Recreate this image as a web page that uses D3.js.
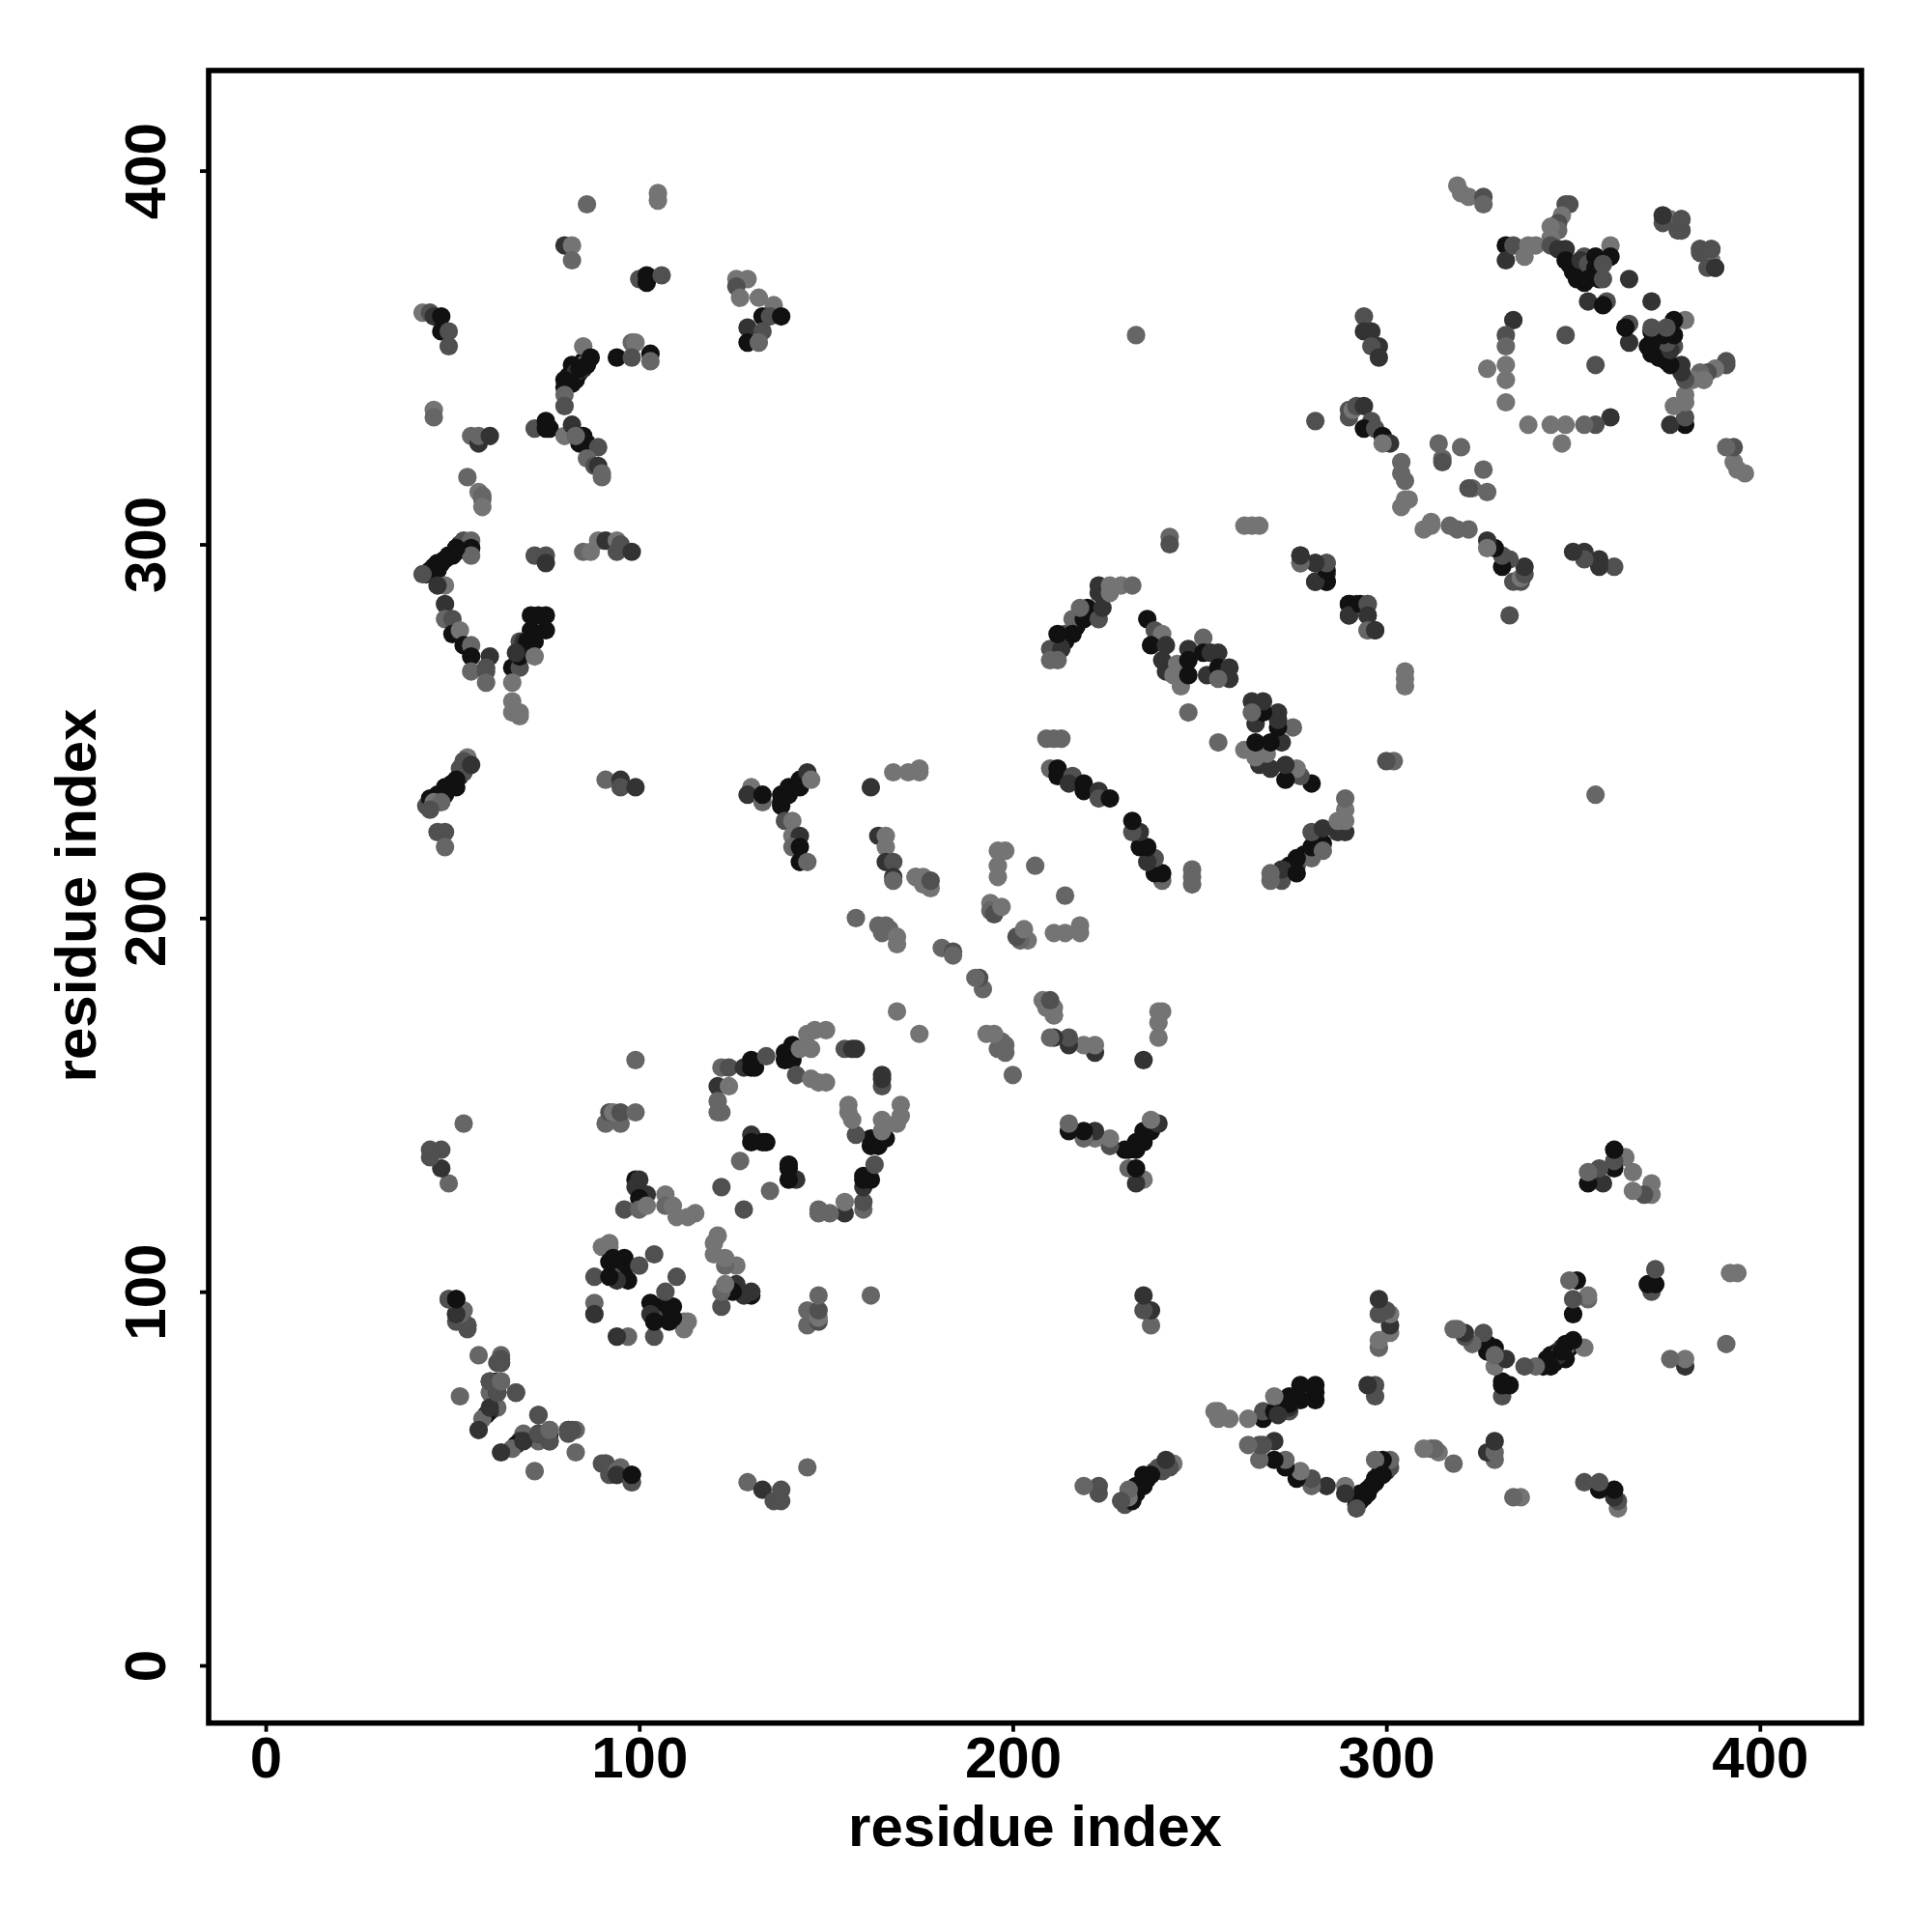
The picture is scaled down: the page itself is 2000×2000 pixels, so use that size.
<!DOCTYPE html>
<html><head><meta charset="utf-8">
<script src="https://cdnjs.cloudflare.com/ajax/libs/d3/7.8.5/d3.min.js"></script>
<style>html,body{margin:0;background:#fff}</style></head>
<body><script>
const xTicks=[0,100,200,300,400];
const yTicks=[0,100,200,300,400];
const axisLabel="residue index";
const shades=["#747474","#666666","#505050","#333333","#111111"];
// residue i, residue j (contact is drawn at i,j and j,i), shade index
const contactsDense=[
[43,230,2],[45,232,4],[46,233,4],[49,235,4],[50,236,4],[52,238,3],[52,240,2],
[43,292,4],[45,294,4],[47,295,4],[49,297,4],[52,299,4],[54,300,3],
[81,343,4],[81,345,4],[83,344,4],[84,346,4],[85,347,3],[86,349,4],
[214,274,4],[217,278,4],[221,281,4],
[349,375,4],[353,373,4],[355,372,4],[357,371,4],[350,373,3],
[370,353,4],[373,350,4],[375,356,4],[377,353,2],[372,356,3],
[293,45,4],[295,47,4],[297,49,4],[298,51,4],[300,52,3],
[231,46,3],[233,47,4],[235,49,4],[236,50,4],
[343,81,4],[346,82,4],[347,84,3],[349,85,4]
];
const contactsFar=[
[86,391,1],[105,394,0],[105,392,0],[80,380,3],[82,380,0],[82,376,1],[100,371,2],[102,372,4],[102,370,4],[106,372,2],
[126,371,0],[129,371,0],[126,369,2],[127,366,0],[132,366,0],[136,364,0],[133,361,4],[135,361,2],[138,361,4],[129,358,3],[133,357,2],[129,354,4],[132,354,1],
[42,362,0],[44,362,2],[45,361,3],[47,361,4],[47,357,4],[49,357,2],[49,353,2],
[85,353,0],[85,348,1],[82,348,4],[83,346,3],[87,350,4],[86,348,4],[84,347,4],[80,344,4],[82,343,4],[80,342,4],[80,340,1],[80,337,2],
[94,350,4],[98,354,1],[99,354,0],[98,350,2],[103,351,4],[103,349,1],
[45,336,0],[45,334,1],[55,329,1],[57,327,3],[57,329,1],[60,329,3],
[72,331,2],[75,333,4],[75,331,4],[76,331,4],[80,329,0],[82,332,3],[84,327,4],[85,329,4],[86,327,4],[83,329,1],[89,326,2],[86,323,1],[88,321,2],[89,321,3],[90,319,1],[90,318,1],
[54,318,1],[57,314,0],[58,313,1],[58,312,1],[58,310,0],
[53,301,2],[55,301,1],[55,299,4],[55,297,1],[51,299,4],[50,297,4],[48,296,4],[46,295,4],[44,293,4],[46,293,4],[42,292,2],[48,289,0],[46,289,3],
[48,284,3],[48,280,1],[50,280,2],[50,276,4],[52,277,0],
[72,297,2],[75,297,2],[75,295,3],[85,298,1],[87,298,0],[89,301,0],[91,301,3],[94,301,0],[94,298,2],[95,300,2],[98,298,3],
[71,281,4],[73,281,4],[75,281,4],[71,277,4],[75,277,4],[72,276,4],[68,274,2],[69,274,3],[70,274,4],[72,274,4],
[53,273,4],[55,273,1],[55,270,4],[60,270,3],[55,266,1],[59,267,2],[59,266,2],[59,263,1],
[66,267,4],[68,267,2],[66,263,0],[68,270,4],[67,271,3],[72,270,0],[66,258,0],[66,255,0],[68,255,0],[68,254,0],
[54,243,0],[53,242,2],[53,239,2],[55,241,3],[51,237,4],[51,235,4],[48,235,4],[48,233,4],[47,233,4],[44,232,4],[45,231,0],[47,231,1],[44,229,2],
[46,223,2],[48,223,2],[48,219,1],[91,237,1],[95,237,3],[95,235,2],[99,235,3],
[130,235,0],[129,233,3],[133,231,1],[133,233,4],[138,230,4],[138,231,4],[138,233,4],[140,233,4],[140,235,4],[143,235,4],[143,237,4],[145,239,3],[146,237,0],
[139,226,2],[141,226,0],[141,222,0],[143,222,3],[141,219,1],[143,219,4],[143,215,4],[145,215,1],
[162,235,3],[168,239,0],[172,239,0],[175,240,0],[175,239,0],
[164,222,3],[166,222,0],[166,219,0],[166,215,3],[168,215,2],[168,211,3],[168,210,1],[174,211,0],[176,211,0],[177,210,0],[178,208,0],
[49,129,1],[47,133,3],[44,136,2],[47,138,2],[44,138,2],[53,145,1],
[233,356,1]
];
const contactsNear=[
[49,98,2],[51,98,3],[51,94,3],[53,95,1],[54,91,2],[54,90,2],[91,54,2],[92,51,2],[94,52,1],[94,51,3],[98,49,2],[98,51,4],
[57,83,1],[63,83,1],[63,81,3],[63,82,2],[60,76,2],[62,76,4],[63,76,1],[60,73,1],[62,73,4],[67,73,2],[52,72,1],[62,69,1],[60,68,3],[59,67,4],[58,66,1],[57,63,3],
[73,67,2],[60,69,3],[62,73,2],[60,76,2],[63,76,1],[63,81,2],[62,81,2],
[99,162,1],[122,160,1],[124,160,2],[128,160,3],[130,162,4],[130,160,4],[131,160,4],[134,163,2],[139,164,4],[139,162,4],[141,166,4],[141,162,4],[143,165,0],[145,169,0],[147,170,0],[150,170,0],[146,165,0],
[142,158,2],[146,157,0],[148,156,0],[150,156,0],[121,155,3],[124,155,0],[121,151,1],[121,148,1],[122,148,1],
[91,145,1],[95,145,1],[92,148,2],[93,148,0],[95,148,2],[99,148,1],
[130,142,3],[130,140,4],[133,140,4],[134,140,4],[127,135,1],[122,128,2],
[155,165,2],[157,165,3],[169,175,0],[158,165,3],
[99,130,4],[100,130,3],[99,128,3],[102,126,3],[100,125,4],[96,122,2],[100,122,1],[102,123,0],[107,126,0],[107,123,1],[109,123,0],[110,120,0],[113,120,0],[115,121,0],
[90,112,0],[92,113,0],[92,112,0],[93,109,4],[96,109,4],[96,106,4],[97,103,4],[93,104,2],[100,107,2],[104,110,2],[88,104,2],[88,97,1],[88,94,3],[94,103,3],[92,104,4],[92,108,4],
[158,200,1],[164,198,1],[166,198,1],[165,196,1],[167,197,1],[169,195,0],[169,193,0],[181,192,1],[184,191,2],[184,190,1],
[174,211,0],[176,209,0],[178,210,2],
[196,218,0],[198,218,0],[196,214,0],[196,211,0],[206,214,1],[194,204,0],[194,202,1],[195,201,2],[197,203,0],
[209,248,1],[213,248,1],[211,248,1],[210,240,1],[212,240,4],[212,238,4],[216,238,2],[215,236,3],[219,236,4],[219,234,4],[223,234,3],[223,232,2],[226,232,4],
[214,276,2],[210,272,2],[213,272,3],[210,269,1],[212,269,1],[216,280,1],[216,276,4],[212,276,4],[219,280,4],[220,283,4],[218,283,1],[223,280,2],[224,283,3],[223,287,3],[223,289,3],[226,287,0],[226,289,0],[229,289,0],[232,289,1],
[236,280,4],[238,277,2],[240,276,0],[237,273,4],[241,273,3],[240,269,3],[241,266,3],[243,265,0],[244,268,0],[245,262,0],[247,265,4],[247,272,3],[247,269,4],[251,275,1],[251,271,4],[253,271,3],[255,271,3],[252,265,3],[255,267,4],[258,267,3],[258,264,3],[255,264,1],[247,255,1],
[242,302,1],[242,300,2],[262,305,0],[264,305,0],[266,305,0],[277,297,3],[277,295,1],[281,295,3],[284,295,2],[284,292,3],[281,290,4],[284,290,4],
[290,284,4],[290,281,3],[293,284,4],[295,284,2],[295,281,3],[295,277,1],[297,277,3],
[281,333,2],[290,336,2],[290,334,2],[291,336,0],[292,337,2],[294,337,3],[296,333,2],[294,331,4],[297,331,2],[299,329,4],[301,327,3],[299,327,0],
[304,322,1],[304,319,1],[305,317,1],[305,312,0],[306,312,0],[304,310,0],[314,327,1],[320,326,1],[315,323,1],[315,322,2],
[294,361,2],[294,357,3],[296,357,3],[298,353,3],[296,353,2],[298,350,3],
[319,396,0],[320,394,0],[322,393,0],[326,393,2],[326,391,1],
[348,391,2],[349,391,2],[347,388,0],[346,386,2],[346,384,1],[344,385,0],[344,382,0],
[332,380,4],[332,376,3],[334,380,2],[338,380,0],[340,380,0],[337,377,0],[344,380,2],[346,379,3],[348,379,3],[348,376,4],
[352,376,3],[354,375,2],[356,377,4],[360,380,0],[360,377,4],[356,374,4],[358,375,2],[351,371,4],[354,371,4],[358,371,2],[365,371,3],[354,365,3],[359,365,2],[358,364,4],
[374,388,2],[376,387,0],[379,387,2],[379,384,2],[378,384,2],[384,379,2],[387,379,2],[386,374,2],[388,374,3],
[334,360,3],[332,356,2],[332,353,1],[327,347,0],[332,348,0],[332,344,0],[332,338,0],[348,356,2]
];
const W=2000;
const x=d3.scaleLinear().domain([-15.27,427.2]).range([216,1927]);
const y=d3.scaleLinear().domain([-15.43,426.8]).range([1783.7,73]);
const svg=d3.select("body").append("svg").attr("width",W).attr("height",W).style("display","block");
const font="'Liberation Sans',Arial,sans-serif";

const pts=[];
[...contactsDense,...contactsFar,...contactsNear].forEach(([i,j,s])=>{pts.push([i,j,s]);pts.push([j,i,s]);});
svg.append("g").selectAll("circle").data(pts).join("circle")
  .attr("cx",d=>x(d[0])).attr("cy",d=>y(d[1])).attr("r",9.6).attr("fill",d=>shades[d[2]]);

svg.append("rect").attr("x",216).attr("y",73).attr("width",1711).attr("height",1710.7)
  .attr("fill","none").attr("stroke","#000").attr("stroke-width",5.6);

const ax=svg.append("g").attr("transform","translate(0,1783.7)")
  .call(d3.axisBottom(x).tickValues(xTicks).tickSize(9).tickPadding(0).tickFormat(d3.format("d")));
const ay=svg.append("g").attr("transform","translate(216,0)")
  .call(d3.axisLeft(y).tickValues(yTicks).tickSize(9).tickPadding(0).tickFormat(d3.format("d")));
[ax,ay].forEach(a=>{a.select(".domain").remove();a.selectAll("line").attr("stroke","#000").attr("stroke-width",3.8);});
ax.selectAll("text").attr("y",56).attr("dy",0).attr("text-anchor","middle")
  .attr("font-family",font).attr("font-size",60).attr("font-weight","bold").attr("fill","#000");
ay.selectAll("text").attr("x",0).attr("dy",0).attr("text-anchor","middle")
  .attr("transform",d=>`translate(-45,${0}) rotate(-90)`)
  .attr("font-family",font).attr("font-size",60).attr("font-weight","bold").attr("fill","#000");

svg.append("text").attr("x",1071.5).attr("y",1911).attr("text-anchor","middle")
  .attr("font-family",font).attr("font-size",60).attr("font-weight","bold").text(axisLabel);
svg.append("text").attr("transform","translate(99,927) rotate(-90)").attr("text-anchor","middle")
  .attr("font-family",font).attr("font-size",60).attr("font-weight","bold").text(axisLabel);
</script></body></html>
